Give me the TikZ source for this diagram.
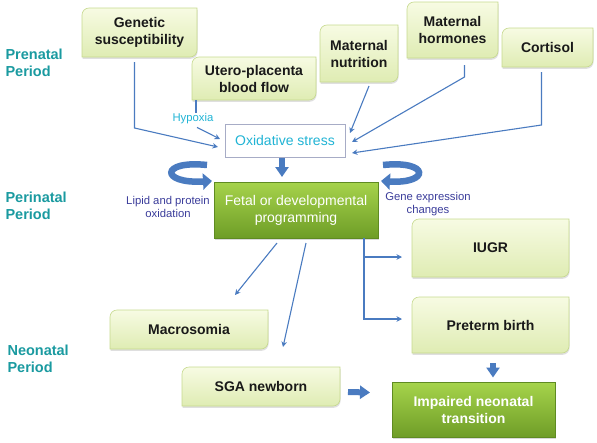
\documentclass[tikz,border=0pt]{standalone}
\usepackage{fontspec}
\setmainfont{Liberation Sans}
\usetikzlibrary{arrows.meta,shadows,backgrounds}
\definecolor{lgtop}{HTML}{F7FBE3}
\definecolor{lgbot}{HTML}{DFECB3}
\definecolor{lgbord}{HTML}{C6D98E}
\definecolor{dgtop}{HTML}{A6D34B}
\definecolor{dgbot}{HTML}{6E9D27}
\definecolor{dgbord}{HTML}{5F8B22}
\definecolor{periodc}{HTML}{1A9AA0}
\definecolor{arrowc}{HTML}{4A7BC0}
\definecolor{cyanc}{HTML}{21B4D5}
\definecolor{labc}{HTML}{3A3C9A}
\definecolor{oxbord}{HTML}{A7ACC6}
\tikzset{
  box/.style={minimum width=#1, inner sep=0pt, outer sep=0pt, align=center,
    font=\bfseries\fontsize{14}{17}\selectfont, text=black!90},
  lfill/.style={top color=lgtop, bottom color=lgbot, draw=lgbord, line width=0.6pt,
    drop shadow={shadow xshift=0.6pt, shadow yshift=-1.8pt, opacity=0.25}},
  dfill/.style={top color=dgtop, bottom color=dgbot, draw=dgbord, line width=0.6pt,
    drop shadow={shadow xshift=0.6pt, shadow yshift=-1.8pt, opacity=0.3}},
  period/.style={anchor=west, align=left, text=periodc, font=\bfseries\fontsize{14.5}{17}\selectfont},
  small/.style={align=center, font=\fontsize{11.3}{13.5}\selectfont, inner sep=0pt},
  conn/.style={draw=arrowc, line width=1.1pt, -{Stealth[length=5.5pt,width=5.5pt]}},
  plain/.style={draw=arrowc, line width=1.1pt},
  blk/.style={draw=arrowc, line width=6pt, -{Triangle[length=10pt,width=13pt]}},
  curv/.style={draw=arrowc, line width=6.5pt, -{Triangle[length=9pt,width=16pt]}},
}
\newcommand\lightbox[1]{%
  \begin{scope}[on background layer]
  \path[lfill] (#1.south west) -- ([yshift=-7pt]#1.north west)
    arc[start angle=180,end angle=90,radius=7pt] -- (#1.north east)
    -- ([yshift=7pt]#1.south east) arc[start angle=0,end angle=-90,radius=7pt] -- cycle;
  \end{scope}}
\newcommand\darkbox[1]{%
  \begin{scope}[on background layer]
  \path[dfill] (#1.south west) rectangle (#1.north east);
  \end{scope}}
\begin{document}
\begin{tikzpicture}[x=1pt,y=-1pt]
\useasboundingbox (0,0) rectangle (597,442);
% period labels
\node[period] (pre) at (2,63) {Prenatal\\Period};
\node[period] (peri) at (2,206) {Perinatal\\Period};
\node[period] (neo) at (4,359) {Neonatal\\Period};
% boxes
\node[box=115pt, minimum height=49pt] (gen) at (139.5,32.5) {Genetic\\susceptibility};
\node[box=124pt, minimum height=43pt] (utero) at (254,78.5) {Utero-placenta\\blood flow};
\node[box=78pt, minimum height=57pt] (nutr) at (359,53.5) {Maternal\\nutrition};
\node[box=91pt, minimum height=56pt] (horm) at (452.5,30) {Maternal\\hormones};
\node[box=91pt, minimum height=39pt] (cort) at (547.5,47.5) {Cortisol};
\node[box=120pt, minimum height=33pt, draw=oxbord, fill=white, line width=0.8pt,
  font=\fontsize{14}{17}\selectfont, text=cyanc] (oxid) at (285,140.5) {Oxidative stress};
\node[box=164pt, minimum height=56pt, font=\fontsize{14}{17}\selectfont, text=white] (fetal) at (296,210) {Fetal or developmental\\programming};
\node[box=157pt, minimum height=58pt] (iugr) at (490.5,248) {IUGR};
\node[box=157pt, minimum height=56pt] (preterm) at (490.5,325) {Preterm birth};
\node[box=158pt, minimum height=39pt] (macro) at (189,329.5) {Macrosomia};
\node[box=158pt, minimum height=39pt] (sga) at (261,386.5) {SGA newborn};
\node[box=163pt, minimum height=55pt, text=white] (imp) at (473.5,410) {Impaired neonatal\\transition};
\lightbox{gen}\lightbox{utero}\lightbox{nutr}\lightbox{horm}\lightbox{cort}
\lightbox{iugr}\lightbox{preterm}\lightbox{macro}\lightbox{sga}
\darkbox{fetal}\darkbox{imp}
% small labels
\node[small, text=cyanc] (hyp) at (193,119) {Hypoxia};
\node[small, text=labc] (lipid) at (168,207) {Lipid and protein\\oxidation};
\node[small, text=labc] (gene) at (428,204) {Gene expression\\changes};
% connectors into oxidative stress
\draw[conn] ([xshift=-5pt,yshift=-5pt]gen.south) -- ++(0,66) -- ([xshift=-7pt,yshift=-6.5pt]oxid.west);
\draw[plain] ([xshift=4pt]utero.south west) -- ([xshift=3pt,yshift=1pt]hyp.north);
\draw[conn] ([xshift=4pt,yshift=-3pt]hyp.south) -- ([xshift=-5pt,yshift=1.5pt]oxid.west);
\draw[conn] ([xshift=10pt,yshift=-4pt]nutr.south) -- ([xshift=5pt,yshift=-9pt]oxid.north east);
\draw[conn] ([xshift=12pt,yshift=-7pt]horm.south) -- ++(0,12) -- ([xshift=7pt,yshift=-1.5pt]oxid.east);
\draw[conn] ([xshift=-6pt,yshift=-5pt]cort.south) -- ++(0,53) -- ([xshift=7pt,yshift=-12.5pt]oxid.east);
% block arrows
\draw[blk] ([xshift=-3pt,yshift=-1pt]oxid.south) -- ([xshift=-14pt,yshift=5pt]fetal.north);
\draw[blk] ([xshift=2.5pt,yshift=-10pt]preterm.south) -- ([xshift=19.5pt,yshift=5pt]imp.north);
\draw[blk] ([xshift=8pt,yshift=-5.5pt]sga.east) -- ([xshift=-22pt,yshift=17.5pt]imp.west);
% curved arrows
\coordinate (cl1) at (207,165);
\coordinate (cl2) at (212,181);
\coordinate (cr1) at (383,165);
\coordinate (cr2) at (381,181);
\draw[curv] (cl1) .. controls (160,160) and (160,184) .. (cl2);
\draw[curv] (cr1) .. controls (430,160) and (430,184) .. (cr2);
% from fetal programming
\draw[conn] ([xshift=-19pt,yshift=-5pt]fetal.south) -- ([xshift=46pt,yshift=15pt]macro.north);
\draw[conn] ([xshift=10pt,yshift=-5pt]fetal.south) -- ([xshift=22pt,yshift=20pt]sga.north);
\draw[conn] ([xshift=68pt]fetal.south) |- ([xshift=-10pt,yshift=-9pt]iugr.west);
\draw[conn] ([xshift=68pt]fetal.south) |- ([xshift=-10pt,yshift=6pt]preterm.west);
\end{tikzpicture}
\end{document}
